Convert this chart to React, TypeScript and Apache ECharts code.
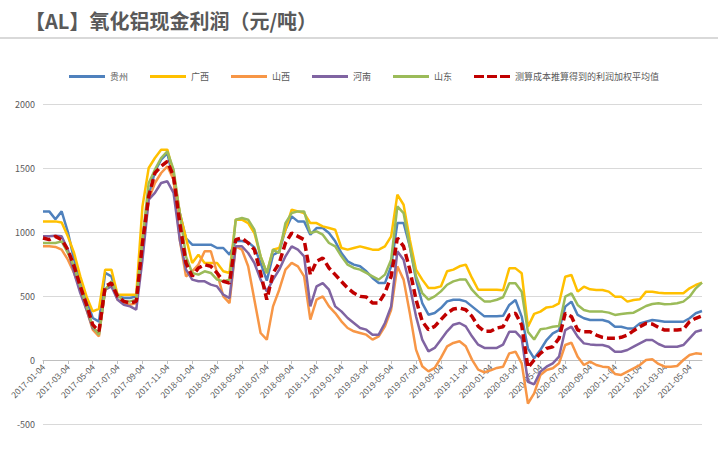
import React, { useEffect, useRef } from "react";
import * as echarts from "echarts";

// Semi-monthly category dates (04 and 19 of each month), 2017-01-04 .. 2021-06-04
const dates: string[] = (() => {
  const out: string[] = [];
  for (let y = 2017; y <= 2021; y++) {
    for (let m = 1; m <= 12; m++) {
      const mm = m < 10 ? "0" + m : "" + m;
      out.push(`${y}-${mm}-04`);
      if (y === 2021 && m === 6) return out;
      out.push(`${y}-${mm}-19`);
    }
  }
  return out;
})();

const seriesNames = ["贵州", "广西", "山西", "河南", "山东", "测算成本推算得到的利润加权平均值"];

const guizhou = [
  1161, 1161, 1100, 1161, 1000, 784, 628, 471, 328, 300,
  680, 653, 497, 484, 484, 497, 950, 1280, 1474, 1565,
  1617, 1400, 1150, 950, 901, 901, 901, 901, 875, 875,
  823, 930, 930, 920, 880, 760, 620, 820, 849, 1018,
  1122, 1083, 1083, 979, 1031, 1031, 992, 927, 836, 771,
  745, 732, 693, 641, 601, 601, 732, 1070, 1070, 888,
  628, 445, 354, 367, 406, 458, 471, 471, 458, 419,
  380, 341, 341, 341, 345, 430, 469, 339, 91, 13,
  78, 156, 208, 234, 417, 456, 352, 326, 312, 312,
  312, 299, 260, 260, 247, 247, 286, 299, 312, 307,
  299, 299, 299, 299, 326, 365, 383,
];

const guangxi = [
  1083, 1083, 1083, 1075, 966, 836, 653, 497, 380, 400,
  706, 706, 510, 510, 510, 510, 1200, 1500, 1578, 1643,
  1643, 1461, 1148, 953, 758, 823, 758, 758, 758, 693,
  680, 1096, 1096, 1070, 992, 810, 680, 862, 875, 1018,
  1174, 1161, 1148, 1070, 1070, 1044, 1031, 1018, 875, 862,
  875, 888, 875, 862, 862, 888, 966, 1292, 1213, 940,
  706, 628, 562, 562, 575, 693, 706, 732, 745, 641,
  549, 549, 549, 549, 545, 716, 716, 677, 260, 360,
  378, 411, 417, 443, 651, 664, 534, 573, 552, 547,
  547, 534, 495, 495, 456, 469, 474, 534, 534, 526,
  521, 521, 521, 521, 560, 586, 604,
];

const shanxi = [
  888, 888, 883, 862, 784, 680, 549, 393, 237, 185,
  549, 601, 471, 445, 432, 445, 862, 1253, 1383, 1461,
  1513, 1409, 940, 653, 693, 745, 849, 849, 680, 497,
  445, 888, 862, 732, 471, 211, 159, 419, 549, 706,
  758, 732, 654, 315, 471, 497, 419, 367, 302, 250,
  224, 211, 198, 159, 185, 263, 393, 732, 628, 367,
  81, -49, -89, -62, 16, 107, 133, 146, 107, 3,
  -75, -96, -81, -62, -52, 52, 65, -26, -340, -260,
  -117, -78, -65, -26, 117, 135, 26, -39, -13, -39,
  -52, -57, -109, -117, -91, -65, -39, 0, 5, -31,
  -52, -52, -47, 0, 39, 52, 47,
];

const henan = [
  966, 966, 971, 966, 862, 680, 523, 393, 250, 211,
  549, 575, 471, 432, 419, 393, 784, 1253, 1305, 1383,
  1396, 1305, 940, 706, 628, 615, 615, 589, 575, 510,
  484, 888, 888, 836, 758, 628, 536, 628, 706, 810,
  888, 862, 810, 419, 575, 601, 549, 419, 380, 328,
  289, 250, 237, 198, 198, 289, 419, 849, 784, 575,
  341, 159, 68, 94, 159, 224, 276, 289, 263, 185,
  120, 94, 94, 94, 120, 221, 221, 169, -170, -190,
  -91, -52, -26, 26, 234, 260, 182, 130, 122, 117,
  117, 104, 65, 65, 78, 104, 130, 156, 156, 125,
  104, 104, 104, 117, 169, 221, 234,
];

const shandong = [
  914, 914, 914, 927, 836, 732, 575, 419, 263, 198,
  549, 615, 510, 458, 458, 471, 940, 1383, 1487, 1578,
  1630, 1487, 1148, 810, 680, 667, 693, 680, 628, 615,
  628, 1096, 1109, 1096, 1018, 810, 680, 862, 836, 1070,
  1148, 1161, 1161, 992, 1005, 979, 914, 888, 810, 745,
  719, 706, 680, 654, 628, 667, 784, 1200, 1148, 888,
  654, 523, 471, 497, 536, 588, 614, 628, 628, 549,
  497, 458, 458, 471, 490, 599, 599, 534, 220, 160,
  240, 247, 260, 265, 495, 521, 430, 391, 378, 378,
  378, 370, 352, 359, 365, 370, 396, 422, 437, 443,
  435, 437, 443, 456, 495, 560, 604,
];

const weightedAvg = [
  953, 940, 966, 940, 862, 732, 575, 432, 276, 224,
  575, 601, 497, 458, 445, 458, 914, 1279, 1461, 1513,
  1552, 1435, 1070, 758, 654, 719, 745, 732, 680, 615,
  601, 940, 953, 914, 862, 680, 471, 680, 758, 914,
  992, 966, 940, 667, 771, 797, 719, 667, 614, 562,
  523, 497, 492, 445, 445, 523, 654, 953, 888, 706,
  471, 302, 237, 263, 315, 367, 398, 406, 393, 341,
  263, 224, 224, 250, 260, 352, 365, 273, -60, 0,
  52, 91, 104, 169, 365, 339, 234, 221, 221, 195,
  177, 169, 169, 177, 195, 229, 260, 286, 281, 255,
  234, 234, 234, 240, 299, 326, 344,
];

const yTicks = { min: -500, max: 2000, interval: 500 };

const colors = ["#4F81BD", "#FFC000", "#F79646", "#8064A2", "#9BBB59", "#C00000"];

const solidIcon = "path://M0,0h36v3h-36z";
const dashIcon = "path://M0,0h10v3h-10zM13,0h10v3h-10zM26,0h10v3h-10z";

const GRID_TOP = 104;
const GRID_BOTTOM = 26;
const CHART_H = 450;

export default function App() {
  const ref = useRef<HTMLDivElement>(null);
  useEffect(() => {
    if (!ref.current) return;
    const chart = echarts.init(ref.current, undefined, { renderer: "svg" });
    const values = [guizhou, guangxi, shanxi, henan, shandong, weightedAvg];
    const font = "'Noto Sans CJK SC', 'Noto Sans', sans-serif";
    // distance from grid bottom (min) up to the zero line
    const plotH = CHART_H - GRID_TOP - GRID_BOTTOM;
    const zeroOffset = (plotH * (0 - yTicks.min)) / (yTicks.max - yTicks.min);
    chart.setOption({
      animation: false,
      backgroundColor: "#ffffff",
      color: colors,
      title: {
        text: "【AL】氧化铝现金利润（元/吨）",
        left: 20,
        top: 5,
        textStyle: { fontSize: 20, fontWeight: "bold", color: "#595959", fontFamily: font },
      },
      graphic: [
        {
          type: "line",
          shape: { x1: 0, y1: 38, x2: 718, y2: 38 },
          style: { stroke: "#d9d9d9", lineWidth: 2 },
        },
      ],
      legend: {
        left: 69,
        top: 72,
        padding: 0,
        itemWidth: 36,
        itemHeight: 3,
        itemGap: 22,
        textStyle: { fontSize: 9, color: "#595959", fontFamily: font },
        data: seriesNames.map((name, k) => ({
          name,
          icon: k === 5 ? dashIcon : solidIcon,
          itemStyle: { color: colors[k] },
        })),
      },
      grid: {
        left: 43,
        right: 16,
        top: GRID_TOP,
        bottom: GRID_BOTTOM,
        containLabel: false,
        outerBoundsMode: "none",
      },
      xAxis: {
        type: "category",
        data: dates,
        boundaryGap: false,
        position: "bottom",
        offset: -zeroOffset,
        axisLine: { onZero: false, lineStyle: { color: "#bfbfbf", width: 1 } },
        axisTick: { show: true, interval: 3, length: 4, lineStyle: { color: "#bfbfbf" } },
        axisLabel: {
          interval: 3,
          rotate: 45,
          fontSize: 8.5,
          color: "#595959",
          margin: 5,
          fontFamily: font,
        },
        splitLine: { show: false },
      },
      yAxis: {
        type: "value",
        min: yTicks.min,
        max: yTicks.max,
        interval: yTicks.interval,
        axisLine: { show: false },
        axisTick: { show: false },
        axisLabel: {
          fontSize: 9,
          color: "#595959",
          margin: 8,
          fontFamily: font,
          formatter: (v: number) => String(v),
        },
        splitLine: { lineStyle: { color: "#d9d9d9", width: 1 } },
      },
      series: seriesNames.map((name, k) => ({
        name,
        type: "line",
        data: values[k],
        symbol: "none",
        showSymbol: false,
        lineStyle:
          k === 5
            ? { width: 3.5, type: [8, 4], color: colors[k] }
            : { width: 2.5, color: colors[k] },
        itemStyle: { color: colors[k] },
        z: 2 + k,
      })),
    });
    return () => chart.dispose();
  }, []);
  return (
    <div
      ref={ref}
      style={{ position: "absolute", left: 0, top: 0, width: 718, height: 450 }}
    />
  );
}
